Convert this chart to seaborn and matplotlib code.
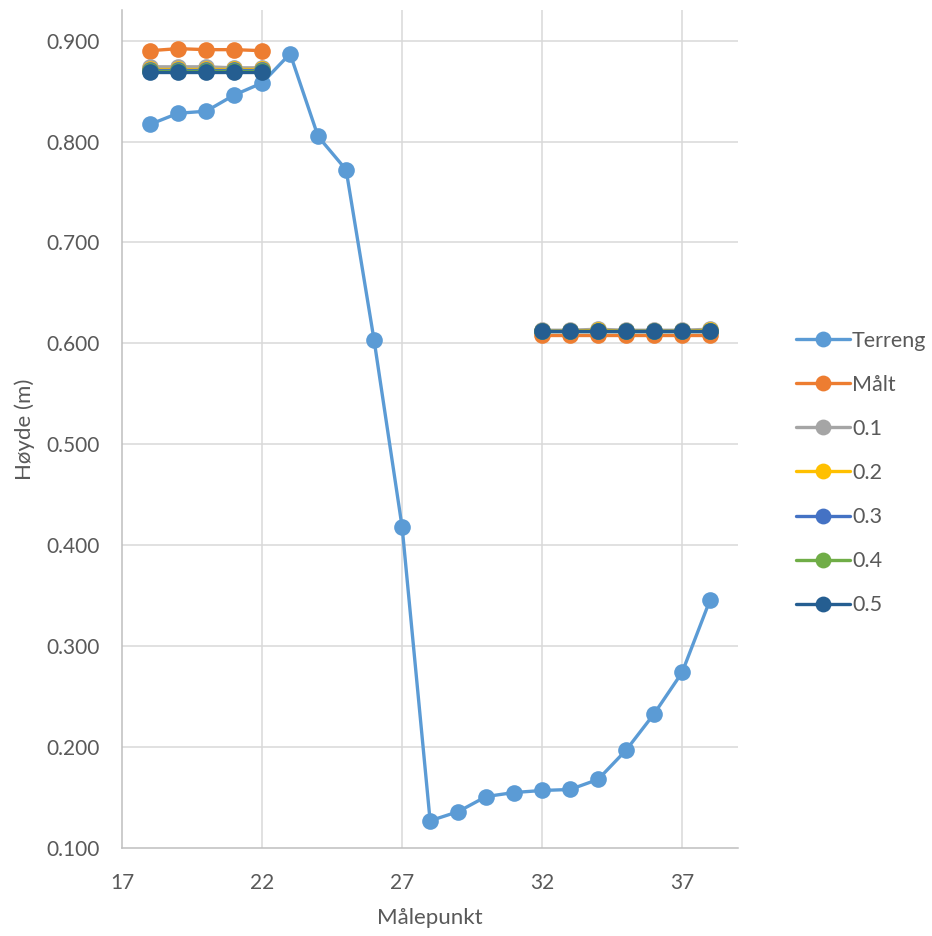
import numpy as np
import pandas as pd
import matplotlib
matplotlib.use("Agg")
import matplotlib.pyplot as plt
from matplotlib.lines import Line2D
import seaborn as sns

sns.set_theme(style="white")
plt.rcParams["font.family"] = ["Lato", "DejaVu Sans"]

# Measurement points and heights
terreng_x = [18, 19, 20, 21, 22, 23, 24, 25, 26, 27, 28, 29, 30, 31, 32, 33, 34, 35, 36, 37, 38]
terreng_y = [0.817, 0.828, 0.830, 0.846, 0.858, 0.887, 0.805, 0.772, 0.603, 0.418, 0.127,
             0.136, 0.151, 0.155, 0.157, 0.158, 0.168, 0.197, 0.233, 0.274, 0.346]

left_x = [18, 19, 20, 21, 22]
right_x = [32, 33, 34, 35, 36, 37, 38]

malt_left = [0.890, 0.892, 0.891, 0.891, 0.890]
malt_right = [0.608, 0.608, 0.608, 0.608, 0.608, 0.608, 0.608]
s01_left = [0.874, 0.874, 0.874, 0.873, 0.873]
s01_right = [0.613, 0.613, 0.614, 0.613, 0.613, 0.613, 0.614]
s02_left = [0.872, 0.872, 0.872, 0.872, 0.872]
s02_right = [0.612, 0.612, 0.613, 0.612, 0.612, 0.612, 0.613]
s03_left = [0.871, 0.871, 0.871, 0.871, 0.871]
s03_right = [0.612, 0.612, 0.612, 0.612, 0.612, 0.612, 0.612]
s04_left = [0.870, 0.870, 0.870, 0.870, 0.870]
s04_right = [0.612, 0.612, 0.612, 0.612, 0.612, 0.612, 0.612]
s05_left = [0.869, 0.869, 0.869, 0.869, 0.869]
s05_right = [0.612, 0.612, 0.612, 0.612, 0.612, 0.612, 0.612]

series_names = ["Terreng", "Målt", "0.1", "0.2", "0.3", "0.4", "0.5"]
colors = ["#5B9BD5", "#ED7D31", "#A5A5A5", "#FFC000", "#4472C4", "#70AD47", "#255E91"]

segments = {
    "Terreng": [(terreng_x, terreng_y)],
    "Målt": [(left_x, malt_left), (right_x, malt_right)],
    "0.1": [(left_x, s01_left), (right_x, s01_right)],
    "0.2": [(left_x, s02_left), (right_x, s02_right)],
    "0.3": [(left_x, s03_left), (right_x, s03_right)],
    "0.4": [(left_x, s04_left), (right_x, s04_right)],
    "0.5": [(left_x, s05_left), (right_x, s05_right)],
}

fig = plt.figure(figsize=(9.32, 9.36), dpi=100)
ax = fig.add_axes([0.131, 0.094, 0.661, 0.895])

lw = 2.4
ms = 12
for name, col in zip(series_names, colors):
    for xs, ys in segments[name]:
        df = pd.DataFrame({"x": xs, "y": ys})
        sns.lineplot(data=df, x="x", y="y", ax=ax, color=col, linewidth=lw,
                     marker="o", markersize=ms, markeredgewidth=0,
                     estimator=None, sort=False, legend=False)

ax.set_xlim(17, 39)
ax.set_ylim(0.1, 0.93)
ax.set_xticks([17, 22, 27, 32, 37])
ax.set_yticks(np.arange(0.1, 0.901, 0.1))
ax.set_yticklabels([f"{v:.3f}" for v in np.arange(0.1, 0.901, 0.1)])

grid_c = "#D9D9D9"
for xv in [22, 27, 32, 37]:
    ax.axvline(xv, color=grid_c, lw=1.1, zorder=0)
for yv in np.arange(0.2, 0.901, 0.1):
    ax.axhline(yv, color=grid_c, lw=1.1, zorder=0)

for side in ["top", "right"]:
    ax.spines[side].set_visible(False)
for side in ["left", "bottom"]:
    ax.spines[side].set_color("#BFBFBF")
    ax.spines[side].set_linewidth(1.1)

ax.tick_params(axis="both", length=0, labelsize=15, colors="#595959")
ax.tick_params(axis="y", pad=16)
ax.tick_params(axis="x", pad=18)
ax.set_xlabel("Målepunkt", fontsize=16, color="#595959", labelpad=11)
ax.set_ylabel("Høyde (m)", fontsize=16, color="#595959", labelpad=8)

handles = [Line2D([0], [0], color=c, lw=lw, marker="o", markersize=ms * 0.95,
                  markeredgewidth=0) for c in colors]
fig.legend(handles, series_names, loc="upper left", bbox_to_anchor=(0.845, 0.656),
           frameon=False, fontsize=15.5, labelcolor="#595959", handlelength=2.5,
           handletextpad=0.1, labelspacing=1.12, borderaxespad=0)

fig.savefig("out.png", dpi=100, facecolor="white")
